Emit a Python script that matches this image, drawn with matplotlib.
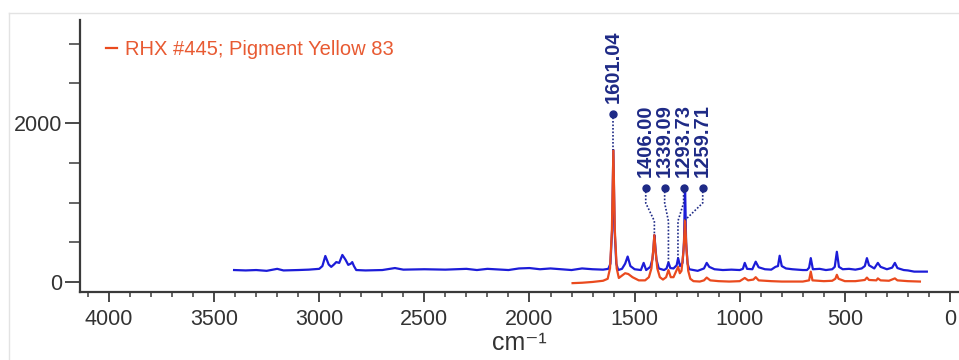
import matplotlib
matplotlib.use("Agg")
import matplotlib.pyplot as plt
from matplotlib.lines import Line2D
from matplotlib.ticker import MultipleLocator, FixedLocator

# ---------------- data ----------------
blue_x = [3405, 3350, 3300, 3250, 3200, 3170, 3100, 3050, 3000, 2985, 2971, 2955,
          2943, 2930, 2919, 2905, 2890, 2875, 2862, 2850, 2843, 2835, 2824, 2780,
          2700, 2640, 2600, 2500, 2400, 2300, 2250, 2200, 2100, 2050, 2000, 1950,
          1900, 1850, 1800, 1750, 1700, 1650, 1625, 1615, 1607, 1601, 1595, 1587,
          1578, 1560, 1545, 1533, 1520, 1500, 1470, 1457, 1445, 1425, 1415, 1410,
          1406, 1401, 1396, 1385, 1360, 1348, 1339, 1330, 1315, 1300, 1293, 1284,
          1272, 1265, 1260, 1255, 1248, 1240, 1220, 1200, 1170, 1157, 1145, 1120,
          1080, 1040, 1000, 985, 976, 965, 940, 924, 910, 880, 850, 830, 818, 810,
          800, 780, 750, 700, 680, 670, 662, 652, 620, 590, 560, 548, 538, 528,
          510, 480, 450, 420, 405, 395, 385, 360, 343, 330, 300, 275, 262, 250,
          220, 200, 170, 140, 110]
blue_y = [150, 145, 150, 140, 165, 145, 150, 155, 165, 200, 327, 220,
          190, 220, 250, 240, 340, 280, 215, 230, 250, 200, 150, 145,
          150, 175, 155, 160, 155, 165, 150, 165, 150, 170, 175, 160,
          170, 160, 150, 170, 160, 155, 165, 230, 650, 1660, 650, 230,
          150, 165, 230, 320, 200, 160, 150, 240, 150, 190, 290, 430,
          590, 430, 280, 170, 150, 170, 245, 175, 170, 210, 300, 200,
          240, 500, 1210, 500, 230, 160, 150, 140, 170, 240, 190, 160,
          150, 155, 150, 165, 240, 165, 160, 255, 185, 160, 155, 190, 200, 330,
          200, 170, 160, 150, 150, 180, 300, 160, 165, 150, 160, 190, 380, 190,
          160, 165, 155, 170, 200, 300, 210, 170, 240, 190, 160, 180, 240, 175,
          150, 145, 130, 130, 130]

red_x = [1795, 1750, 1700, 1650, 1628, 1617, 1608, 1601, 1594, 1585, 1575, 1565,
         1545, 1530, 1510, 1480, 1450, 1432, 1420, 1412, 1406, 1400, 1392, 1380,
         1365, 1350, 1339, 1328, 1315, 1305, 1293, 1285, 1277, 1267, 1260, 1253,
         1245, 1235, 1220, 1190, 1170, 1157, 1140, 1100, 1050, 1000, 976, 960,
         935, 924, 910, 850, 800, 700, 670, 662, 654, 600, 560, 545, 538, 530,
         500, 450, 405, 395, 385, 350, 343, 330, 290, 262, 250, 200, 143]
red_y = [-15, -10, 0, 15, 40, 170, 650, 1660, 650, 170, 50, 70,
         110, 100, 60, 20, 20, 60, 170, 380, 590, 380, 170, 60,
         30, 60, 150, 60, 60, 120, 190, 110, 140, 400, 780, 400,
         140, 40, 10, 5, 20, 55, 20, 10, 5, 10, 50, 20,
         30, 60, 20, 10, 5, 5, 20, 130, 20, 10, 15, 40, 90, 40,
         10, 10, 25, 55, 25, 20, 45, 20, 15, 45, 20, 10, 5]

legend_label = "RHX #445; Pigment Yellow 83"

# peak annotations
peak_labels = ["1601.04", "1406.00", "1339.09", "1293.73", "1259.71"]
peak_x = [1601.04, 1406.00, 1339.09, 1293.73, 1259.71]
peak_top = [1660, 590, 245, 300, 780]
label_x = [1601.04, 1447, 1357, 1267, 1176]
label_y = [2113, 1182, 1182, 1182, 1182]

x_major = [4000, 3500, 3000, 2500, 2000, 1500, 1000, 500, 0]
y_major = [0, 2000]

# ---------------- style ----------------
BLUE = "#1c1cd8"
RED = "#ea4a1e"
NAVY = "#1e2a86"
AXC = "#3a3a3a"
FONT = ["Liberation Sans", "DejaVu Sans"]

plt.rcParams["font.family"] = FONT

fig = plt.figure(figsize=(9.59, 3.6), dpi=100)
ax = fig.add_axes([0.0834, 0.189, 0.9166, 0.755])

# faint frame of the original picture
fig.add_artist(Line2D([9 / 959, 1.0], [1 - 13 / 360, 1 - 13 / 360], color="#e3e3e3", lw=1.0))
fig.add_artist(Line2D([9 / 959, 9 / 959], [0, 1 - 13 / 360], color="#e3e3e3", lw=1.0))

ax.plot(blue_x, blue_y, color=BLUE, lw=1.6, zorder=2)
red_line, = ax.plot(red_x, red_y, color=RED, lw=1.6, zorder=3)

# annotations: dot, dotted elbow connector, rotated label
elbow1 = 994
elbow2 = 767
for lab, px, pt, lx, ly in zip(peak_labels, peak_x, peak_top, label_x, label_y):
    if abs(lx - px) < 1:
        xs, ys = [lx, px], [ly, pt]
    else:
        xs = [lx, lx, px, px]
        ys = [ly, elbow1, max(elbow2, pt), pt]
    ax.plot(xs, ys, color=NAVY, lw=1.2, ls=(0, (1, 1.1)), zorder=4)
    ax.plot([lx], [ly], marker="o", ms=5, color=NAVY, zorder=5)
    ax.annotate(lab, (lx, ly), xytext=(0, 8), textcoords="offset points",
                rotation=90, ha="center", va="bottom", fontsize=14.5,
                fontweight="bold", color=NAVY, family=FONT)

ax.set_xlim(4138, -43)
ax.set_ylim(-126, 3296)

ax.xaxis.set_major_locator(FixedLocator(x_major))
ax.xaxis.set_minor_locator(MultipleLocator(100))
ax.yaxis.set_major_locator(FixedLocator(y_major))
ax.yaxis.set_minor_locator(MultipleLocator(500))

for s in ["top", "right"]:
    ax.spines[s].set_visible(False)
for s in ["left", "bottom"]:
    ax.spines[s].set_color(AXC)
    ax.spines[s].set_linewidth(1.6)

ax.tick_params(axis="x", which="major", length=7, width=1.3, color=AXC,
               labelsize=15.5, labelcolor="#333333", pad=5)
ax.tick_params(axis="x", which="minor", length=3.5, width=1.1, color=AXC)
ax.tick_params(axis="y", which="major", length=11, width=1.3, color=AXC,
               labelsize=15.5, labelcolor="#333333", pad=2)
ax.tick_params(axis="y", which="minor", length=8, width=1.1, color=AXC)

ax.set_xlabel("cm\u207b\u00b9", fontsize=18, color="#333333", labelpad=1, family=FONT)

leg = ax.legend([red_line], [legend_label], loc="upper left",
                bbox_to_anchor=(0.03, 0.928), frameon=False,
                handlelength=0.55, handletextpad=0.4, fontsize=14.5,
                borderaxespad=0, borderpad=0)
for t in leg.get_texts():
    t.set_color("#e85a32")

fig.savefig("out.png", dpi=100)
